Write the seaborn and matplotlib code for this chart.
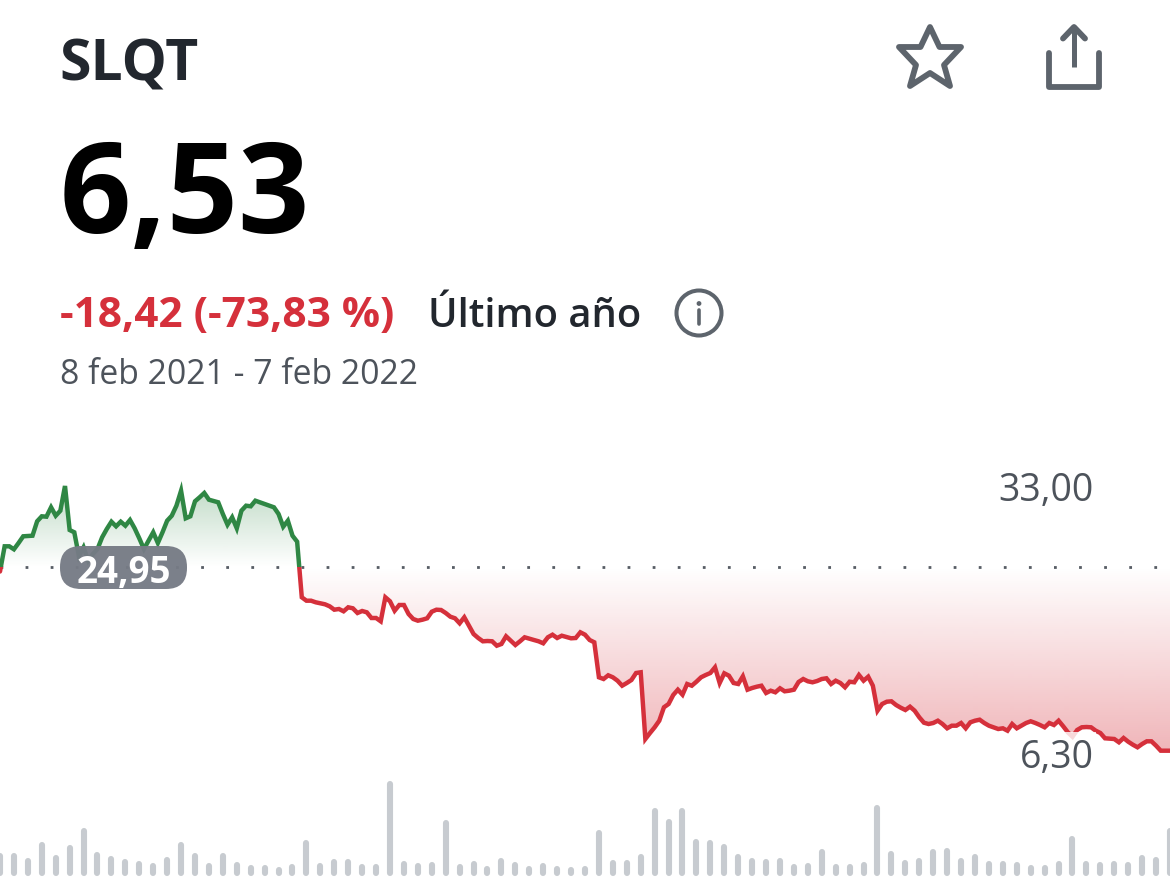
import numpy as np
import pandas as pd
import matplotlib
matplotlib.use("Agg")
import matplotlib.pyplot as plt
from matplotlib.patches import Rectangle, PathPatch, FancyBboxPatch, Circle, Polygon
from matplotlib.lines import Line2D
import seaborn as sns

# ---------- data ----------
ticker = "SLQT"
last_price = "6,53"
change_text = "-18,42 (-73,83 %)"
period_text = "Último año"
date_range = "8 feb 2021 - 7 feb 2022"
open_price = 24.95
max_price = 33.00
min_price = 6.30
open_label = "24,95"
max_label = "33,00"
min_label = "6,30"

prices_a = [24.45, 26.97, 26.97, 26.67, 27.30, 27.97, 28.00, 28.03, 29.47, 29.97, 29.93, 30.87, 30.03, 30.53, 33.00,
            28.60, 28.37, 25.97, 26.87, 25.53, 26.20, 26.70, 27.87, 28.70, 29.43, 28.97, 29.43, 29.03, 29.60, 28.77,
            27.77, 26.70, 27.53, 28.37, 27.30, 28.37, 29.53, 30.03, 31.03, 32.53, 29.77, 29.97, 31.47, 31.87, 32.30,
            31.63, 31.50, 31.37, 30.20, 29.13, 29.87, 28.77, 30.53, 31.03, 30.97, 31.53, 31.37, 31.20, 31.03, 30.87,
            30.20, 28.93, 29.53, 28.03, 27.43, 21.87, 21.53, 21.53, 21.37, 21.27, 21.17, 20.97, 20.63, 20.70, 20.47,
            20.87, 20.77, 20.30, 20.50, 20.37, 19.80, 19.80, 19.47, 21.87, 21.47, 20.53, 21.10]
prices_b = [21.10, 20.20, 19.70, 19.53, 19.63, 19.77, 20.43, 20.63, 20.60, 20.30, 19.93, 19.77, 19.27, 19.87, 19.03,
            18.20, 17.80, 17.47, 17.50, 17.47, 17.03, 17.20, 17.97, 17.53, 17.10, 17.47, 17.87, 17.73, 17.60, 17.47,
            17.27, 17.87, 18.13, 17.80, 18.03, 17.90, 17.77, 17.80, 18.37, 18.13, 17.60, 17.37, 13.87, 13.70, 14.07,
            13.87, 13.53, 13.03, 13.30, 13.60, 14.30, 14.37, 7.70, 8.30, 8.87, 9.53, 10.87, 11.20, 12.10, 12.63,
            12.13, 13.20, 13.03, 13.43, 13.87, 14.10, 14.30, 14.87, 13.30, 14.27, 14.03, 13.30, 13.20, 13.97, 12.63,
            12.80, 12.93, 13.03, 12.30, 12.53, 12.37, 12.77, 12.47, 12.53, 12.63, 13.40]
prices_c = [13.70, 13.47, 13.37, 13.50, 13.70, 13.77, 13.20, 13.53, 13.30, 12.87, 13.43, 13.37, 14.10, 13.53, 13.93,
            13.03, 10.53, 11.20, 11.43, 11.47, 11.10, 10.83, 10.60, 10.93, 10.53, 9.87, 9.33, 9.20, 9.30, 9.53,
            9.20, 8.77, 9.03, 9.03, 9.30, 8.77, 9.37, 9.53, 9.63, 9.30, 9.03, 8.87, 8.70, 8.77, 8.53, 9.20,
            8.77, 9.03, 9.30, 9.47, 9.30, 9.10, 8.87, 9.30, 9.10, 9.53, 8.97, 8.37, 7.93, 8.60, 8.87, 8.90,
            8.87, 8.53, 8.30, 7.77, 7.73, 7.70, 7.37, 7.80, 7.43, 7.13, 6.87, 7.20, 7.47, 7.47, 7.03, 6.53,
            6.53, 6.53]

volumes = [23, 23, 18, 34, 21, 31, 48, 24, 20, 17, 15, 13, 19, 34, 23, 13, 23, 14, 11, 11, 9, 12, 36, 13, 17, 17,
           12, 12, 95, 15, 13, 14, 56, 12, 15, 10, 18, 14, 10, 13, 10, 9, 10, 46, 16, 16, 22, 68, 57, 68, 37, 36,
           32, 22, 18, 17, 18, 12, 13, 27, 12, 12, 14, 71, 25, 16, 18, 27, 28, 18, 22, 15, 15, 14, 11, 11, 15, 40,
           15, 14, 15, 14, 21, 19, 48]
sessions_per_bar = 3

# ---------- colours ----------
GREEN = "#2f8744"
RED = "#d5303b"
BAR = "#c7cbd0"
INK = "#22272e"
MUTED = "#4d535b"
ICON = "#5d646c"
PILL = "#767b85"

# ---------- figure ----------
sns.set_theme(style="white")
plt.rcParams["font.family"] = ["Open Sans", "DejaVu Sans"]
W, H = 1170, 887
fig = plt.figure(figsize=(W / 100, H / 100), dpi=100, facecolor="white")


def axes_px(top, bottom):
    return fig.add_axes([0, 1 - bottom / H, 1, (bottom - top) / H])


prices = np.array(prices_a + prices_b + prices_c)
sessions = np.arange(len(prices))
x_max = sessions[-1]

# ---------- price axes: 10 px per unit, open price at y = 567.5 px ----------
ax = axes_px(470, 780)
price_top = open_price + (567.5 - 470) / 10
price_bottom = open_price - (780 - 567.5) / 10

# gradient, clipped to the area between the line and the opening price
yy = np.linspace(price_top, price_bottom, 310)
rgba = np.zeros((310, 1, 4))
up = yy >= open_price
rgba[up, 0, :3] = matplotlib.colors.to_rgb(GREEN)
rgba[~up, 0, :3] = matplotlib.colors.to_rgb(RED)
rgba[up, 0, 3] = (yy[up] - open_price) / (max_price - open_price) * 0.30
rgba[~up, 0, 3] = (open_price - yy[~up]) / (open_price - min_price) * 0.36
area = ax.fill_between(sessions, prices, open_price, color="none", linewidth=0)
img = ax.imshow(rgba, extent=[0, x_max, price_bottom, price_top], aspect="auto", zorder=1, interpolation="bilinear")
img.set_clip_path(PathPatch(area.get_paths()[0], transform=ax.transData))

# dotted opening-price line
ax.axhline(open_price, color="#565c64", linewidth=2.0, linestyle=(0, (1.0, 8.03)), zorder=2)

# line: green above the opening price, red below
for colour, y0, y1 in [(GREEN, open_price, price_top), (RED, price_bottom, open_price)]:
    sns.lineplot(x=sessions, y=prices, estimator=None, sort=False, color=colour, linewidth=3.2,
                 solid_joinstyle="miter", ax=ax, legend=False, zorder=3)
    ax.lines[-1].set_clip_path(Rectangle((0, y0), x_max, y1 - y0, transform=ax.transData))

ax.set_xlim(0, x_max)
ax.set_ylim(price_bottom, price_top)
ax.axis("off")

# ---------- volume axes: 1 px per unit ----------
vax = axes_px(770, 880)
cap = 3
bars = np.arange(len(volumes))
vol = np.array(volumes, dtype=float)
vol_df = pd.DataFrame({
    "bar": np.r_[bars, bars],
    "session": np.r_[bars, bars] * sessions_per_bar,
    "volume": np.r_[np.full(len(vol), cap, dtype=float), vol - cap],
})
sns.lineplot(data=vol_df, x="session", y="volume", units="bar", estimator=None, sort=False, color=BAR,
             linewidth=4.4, solid_capstyle="round", ax=vax, legend=False)
vax.set_xlim(0, x_max)
vax.set_ylim(-3.3, 106.7)
vax.axis("off")

# ---------- overlay in pixel coordinates for header and icons ----------
ui = fig.add_axes([0, 0, 1, 1], zorder=5)
ui.set_xlim(0, W)
ui.set_ylim(H, 0)
ui.axis("off")
ui.patch.set_alpha(0)

# veil under the minimum label
ui.add_patch(Rectangle((1020, 733), 76, 42, facecolor="white", edgecolor="none", alpha=0.82))
# pill of opening price
ui.add_patch(FancyBboxPatch((81, 568), 85, 1, boxstyle="round,pad=21,rounding_size=21",
                            facecolor=PILL, edgecolor="none", alpha=0.96))

ui.text(59, 80, ticker, fontsize=41, fontweight="bold", color=INK, va="baseline")
ui.text(60, 233, last_price, fontsize=90, fontweight="bold", color="#000000", va="baseline")
ui.text(60, 327, change_text, fontsize=30.5, fontweight="bold", color=RED, va="baseline")
ui.text(428, 327, period_text, fontsize=28.7, fontweight=600, color=INK, va="baseline")
ui.text(60, 384, date_range, fontsize=24.3, color=MUTED, va="baseline")

right_edge = 1094
for value, label in [(max_price, max_label), (min_price, min_label)]:
    ui.text(right_edge, 567.5 - (value - open_price) * 10, label, fontsize=27, color=MUTED,
            ha="right", va="center_baseline")
ui.text(123.5, 569, open_label, fontsize=26.5, fontweight="bold", color="white", ha="center", va="center_baseline")

# star icon
star = [(930, 28), (939.5, 48), (961, 48), (944, 66), (950, 87), (930, 74), (910, 87), (916, 66), (899, 48), (920.5, 48)]
ui.add_patch(Polygon(star, closed=True, facecolor="none", edgecolor=ICON, linewidth=4.2, joinstyle="round"))

# share icon
ui.add_line(Line2D([1049, 1049, 1099, 1099], [54, 87.5, 87.5, 54], color=ICON, linewidth=4.2,
                   solid_capstyle="round", solid_joinstyle="round"))
ui.add_line(Line2D([1074, 1074], [68, 28], color=ICON, linewidth=3.6, solid_capstyle="butt"))
ui.add_line(Line2D([1063, 1074, 1085], [39.5, 28, 39.5], color=ICON, linewidth=4.2,
                   solid_capstyle="round", solid_joinstyle="round"))

# info icon
ui.add_patch(Circle((699, 314), 22.5, facecolor="none", edgecolor=ICON, linewidth=2.9))
ui.add_patch(Circle((699, 304.5), 2.4, facecolor=ICON, edgecolor="none"))
ui.add_line(Line2D([699, 699], [311, 325], color=ICON, linewidth=2.6, solid_capstyle="round"))

fig.savefig("out.png", dpi=100, facecolor="white")
